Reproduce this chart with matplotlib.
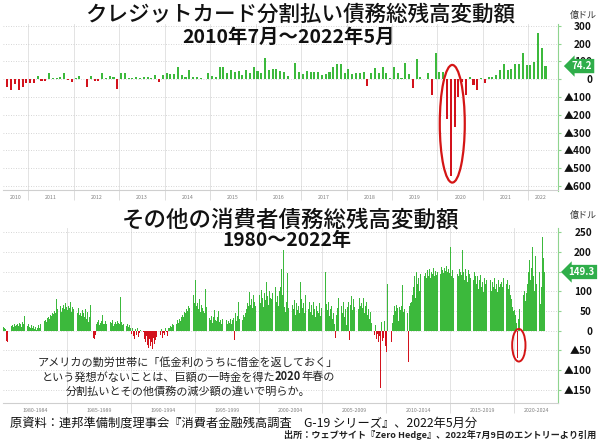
import matplotlib
matplotlib.use("Agg")
import matplotlib.pyplot as plt
import matplotlib.transforms as mtransforms
from matplotlib.patches import Ellipse
import numpy as np

plt.rcParams['font.family'] = ['Noto Sans CJK JP', 'DejaVu Sans']

# クレジットカード分割払い (2010年7月～2022年5月, 億ドル)
card_change = [
    -41, -60, -28, -60, -41, -22,                                   # 2010 7-12
    -19, -22, 19, -9, -9, 37, 9, 5, 15, 34, -4, -17,                 # 2011
    5, 21, 2, -41, 19, -9, -9, 34, 9, 19, 15, -56,                   # 2012
    34, 34, 5, 9, 15, 9, 11, 11, 5, 24, -13, 24,                     # 2013
    37, 28, 28, 71, 24, 11, 52, 15, 11, 5, 3, 37,                    # 2014
    19, 10, 67, 67, 37, 52, 43, 49, 24, 52, 34, 67,                  # 2015
    49, 34, 118, 52, 60, 60, 45, 40, 19, 3, 94, 40,                  # 2016
    28, 49, 43, 40, 43, 24, 28, 43, 67, 86, 86, 34,                  # 2017
    58, 30, 34, 34, 43, -37, 34, 62, 34, 71, 37, 5,                  # 2018
    71, 34, 5, 90, 28, -50, 112, 15, 2, 34, -88, 146,                # 2019
    40, 40, -225, -543, -266, -100, -13, -88, 11, -32, -60, 5,       # 2020
    -22, 12, 15, 24, 52, 86, 52, 56, 86, 86, 150, 80,                # 2021
    80, 99, 260, 174, 74.2,                                          # 2022 1-5
]
card_years = [str(y) for y in range(2010, 2023)]
card_ticks = [300, 200, 100, 0, -100, -200, -300, -400, -500, -600]

# その他の消費者債務 (1980年1月～2022年5月, 億ドル)
other_change = [
    10, 8, 4, -25, -30, -12, 4, 12, 14, 10, 16, 12,                  # 1980
    14, 18, 12, 20, 16, 10, 22, 18, 38, 14, 12, 16,                  # 1981
    10, 8, 14, 6, 12, 4, 10, 2, 8, 14, 6, 18,                        # 1982
    20, 16, 24, 28, 22, 32, 36, 30, 40, 38, 44, 42,                  # 1983
    50, 46, 80, 56, 52, 62, 48, 58, 66, 54, 70, 60,                  # 1984
    52, 64, 58, 72, 48, 60, 54, 50, 66, 44, 58, 40,                  # 1985
    46, 38, 52, 44, 36, 56, 30, 48, 22, 34, 66, 20,                  # 1986
    -18, -22, -10, 18, 22, 26, 14, 20, 24, 40, 18, 16,               # 1987
    24, 18, 28, 14, 22, 20, 26, 12, 18, 22, 16, 24,                  # 1988
    20, 18, 86, 22, 14, 16, 26, 12, 18, 10, 14, 8,                   # 1989
    -8, 6, -14, -20, 4, -10, 8, -16, -6, 2, -12, -4,                 # 1990
    -20, -30, -14, -36, -44, -22, -40, -28, -46, -18, -34, -24,      # 1991
    -16, -8, -24, -10, 4, -18, -6, -12, 6, -4, -14, 8,               # 1992
    6, 12, 10, 18, 14, 22, 16, 26, 20, 30, 24, 34,                   # 1993
    40, 36, 48, 44, 56, 50, 62, 58, 66, 74, 90, 70,                  # 1994
    128, 62, 70, 54, 80, 48, 66, 58, 50, 44, 106, 60,                # 1995
    40, 32, 26, 38, 20, 34, 52, 28, 24, 36, 50, 22,                  # 1996
    26, 18, 30, 14, 22, 28, 16, 24, 20, 30, 18, 26,                  # 1997
    32, -24, 44, 24, 38, 74, 30, 48, 26, 40, 36, 46,                 # 1998
    56, 70, 62, 98, 66, 80, 58, 90, 72, 64, 84, 76,                  # 1999
    90, 70, 104, 84, 60, 96, 78, 124, 88, 66, 100, 82,               # 2000
    80, 96, 68, 110, 74, 88, 64, 100, 110, 156, 92, 205,             # 2001
    60, 48, 74, 146, 58, 82, 133, 66, 54, 78, 40, 70,                # 2002
    52, 64, 46, 125, 80, 58, 70, 44, 90, 62, 56, 74,                 # 2003
    48, 66, 40, 72, 56, 34, 62, 50, 44, 70, 38, 58,                  # 2004
    60, 44, 150, 68, 52, 74, 38, 56, 62, 30, 46, 18,                 # 2005
    -19, 40, 58, 82, 30, 64, 46, 72, 36, 54, 14, 60,                 # 2006
    74, -24, 66, 88, 52, 80, 60, 72, 95, 56, 84, 64,                 # 2007
    70, 58, 84, 46, 62, 74, 40, 56, 30, 48, 20, 10,                  # 2008
    -12, 14, -20, -8, -30, -14, -147, 22, -26, -18, 24, -40,         # 2009
    -53, 120, -62, 108, -28, 20, 40, 62, 50, 66, 58, 24,             # 2010
    60, 52, 64, 116, 48, 56, 239, 44, -79, 62, 70, 72,               # 2011
    90, 110, 140, 82, 150, 120, 135, 100, 145, 125, 188, 140,        # 2012
    148, 135, 155, 140, 158, 133, 150, 145, 160, 138, 152, 142,      # 2013
    150, 158, 145, 162, 155, 148, 160, 152, 165, 150, 158, 146,      # 2014
    213, 140, 155, 133, 150, 160, 145, 138, 158, 150, 142, 205,      # 2015
    150, 130, 158, 140, 125, 155, 145, 135, 160, 128, 150, 138,      # 2016
    120, 140, 105, 130, 142, 110, 125, 99, 135, 118, 128, 112,       # 2017
    115, 130, 100, 125, 110, 133, 105, 120, 99, 128, 112, 118,       # 2018
    125, 110, 133, 100, 120, 128, 105, 115, 90, 80, 60, 50,          # 2019
    52, 40, 20, -70, 30, 55, 200, 60, 90, 100, 75, 95,               # 2020
    120, 150, 180, 130, 160, 213, 140, 100, 190, 120, 165, 150,      # 2021
    69, 110, 239, 184, 149.3,                                        # 2022 1-5
]
other_periods = ['%d-%d' % (y, y + 4) for y in range(1980, 2025, 5)]
other_ticks = [250, 200, 150, 100, 50, 0, -50, -100, -150]

GREEN = '#3cb93c'
RED = '#d3121c'
TAG = '#2fae4a'
SPINE = '#8fd48f'
W, H = 600, 441


def fx(x):
    return x / W


def fy(y):
    return 1 - y / H


def tick_txt(v):
    return '▲%d' % -v if v < 0 else '%d' % v


def style_axes(ax, ticks):
    for s in ['left', 'top']:
        ax.spines[s].set_visible(False)
    ax.spines['right'].set_color(SPINE)
    ax.spines['right'].set_linewidth(0.8)
    ax.spines['bottom'].set_color('#cfcfcf')
    ax.spines['bottom'].set_linewidth(0.8)
    ax.yaxis.tick_right()
    ax.set_yticks(ticks)
    ax.set_yticklabels([tick_txt(v) for v in ticks], fontsize=7.2,
                       fontweight='bold', ha='right')
    ax.tick_params(axis='y', colors=SPINE, length=2.5, width=0.8, pad=22)
    for lab in ax.get_yticklabels():
        lab.set_color('#111111')
    ax.grid(axis='y', color='#c8c8c8', linestyle=(0, (1, 2)), linewidth=0.6)
    ax.set_axisbelow(True)


def year_axis(ax, bounds, centers, labels):
    ax.set_xticks(bounds)
    ax.set_xticklabels([])
    ax.tick_params(axis='x', which='major', length=7, color='#d8d8d8', width=0.6)
    ax.set_xticks(centers, minor=True)
    ax.set_xticklabels(labels, minor=True, fontsize=3.8, color='#808080')
    ax.tick_params(axis='x', which='minor', length=0, pad=3)
    ax.grid(axis='x', which='major', color='#dedede', linewidth=0.6)


def tag(ax, value, color):
    tr = mtransforms.blended_transform_factory(ax.transAxes, ax.transData)
    ax.text(1.043, value, '%.1f' % value, transform=tr, ha='center', va='center',
            fontsize=7, fontweight='bold', color='white', zorder=10,
            bbox=dict(boxstyle='larrow,pad=0.22', fc=color, ec='none'),
            clip_on=False)


fig = plt.figure(figsize=(6, 4.41), dpi=100)

# ---- 上段: クレジットカード分割払い
ax1 = fig.add_axes([fx(3), fy(190.5), 555 / W, 166.4 / H])
card = np.array(card_change)
ic = np.arange(len(card))
ax1.bar(ic, card, width=0.55, color=np.where(card >= 0, GREEN, RED), linewidth=0)
ax1.set_xlim(-1.16, 145.3)
ax1.set_ylim(-625, 310)
style_axes(ax1, card_ticks)
jan1 = np.array([6 + 12 * (int(y) - 2011) for y in card_years])
b1 = jan1[1:] - 0.5
c1 = [(max(j - 0.5, -1.16) + min(j + 11.5, len(card) + 1)) / 2 for j in jan1]
year_axis(ax1, b1, c1, card_years)
tag(ax1, card[-1], TAG)
ax1.add_patch(Ellipse((117.4, -250), 6.6, 661, fill=False, ec='#d41515',
                      lw=1.6, zorder=5, clip_on=False))

# ---- 下段: その他の消費者債務
ax2 = fig.add_axes([fx(3), fy(403.4), 555 / W, 175.7 / H])
other = np.array(other_change)
im = np.arange(len(other))
ax2.bar(im, other, width=0.85, color=np.where(other >= 0, GREEN, RED), linewidth=0)
ax2.set_xlim(-0.6, 520.8)
ax2.set_ylim(-185, 262)
style_axes(ax2, other_ticks)
jan2 = np.array([60 * k for k in range(len(other_periods))])
b2 = jan2[1:] - 0.5
c2 = [(max(j - 0.5, -0.6) + min(j + 59.5, 520.8)) / 2 for j in jan2]
year_axis(ax2, b2, c2, other_periods)
tag(ax2, other[-1], TAG)
ax2.add_patch(Ellipse((484, -37), 12.5, 83, fill=False, ec='#d41515',
                      lw=1.4, zorder=5, clip_on=False))

# ---- タイトル・注記
fig.text(fx(300), fy(15), 'クレジットカード分割払い債務総残高変動額', ha='center',
         va='center', fontsize=15.5, fontweight='medium', color='#111111')
fig.text(fx(289), fy(37.5), '2010年7月～2022年5月', ha='center', va='center',
         fontsize=14, fontweight='bold', color='#111111')
fig.text(fx(291), fy(220.5), 'その他の消費者債務総残高変動額', ha='center',
         va='center', fontsize=16.2, fontweight='medium', color='#111111')
fig.text(fx(287), fy(241), '1980～2022年', ha='center', va='center',
         fontsize=13.8, fontweight='bold', color='#111111')

fig.text(fx(583), fy(15), '億ドル', ha='center', va='center', fontsize=6.5, color='#333333')
fig.text(fx(583), fy(215), '億ドル', ha='center', va='center', fontsize=6.5, color='#333333')

# 注記 (2行目の「2020」だけ太字)
fig.text(fx(188), fy(362), 'アメリカの勤労世帯に「低金利のうちに借金を返しておく」',
         ha='center', va='center', fontsize=8, color='#222222')
fig.text(fx(188), fy(391), '分割払いとその他債務の減少額の違いで明らか。',
         ha='center', va='center', fontsize=8, color='#222222')
parts = [('という発想がないことは、巨額の一時金を得た', 'normal'),
         ('2020', 'bold'), ('年春の', 'normal')]
renderer = fig.canvas.get_renderer()
pieces = []
for txt, wt in parts:
    t = fig.text(0, fy(377), txt, ha='left', va='center', fontsize=8,
                 fontweight=wt, color='#222222')
    pieces.append((t, t.get_window_extent(renderer).width))
total = sum(w for _, w in pieces)
xpos = 188 - total / 2
for t, w in pieces:
    t.set_x(fx(xpos))
    xpos += w

fig.text(fx(10), fy(423), '原資料：連邦準備制度理事会『消費者金融残高調査　G-19 シリーズ』、2022年5月分',
         ha='left', va='center', fontsize=8.8, color='#111111')
fig.text(fx(596), fy(434.5), '出所：ウェブサイト『Zero Hedge』、2022年7月9日のエントリーより引用',
         ha='right', va='center', fontsize=6.6, fontweight='bold', color='#222222')

fig.savefig('out.png', dpi=100)
